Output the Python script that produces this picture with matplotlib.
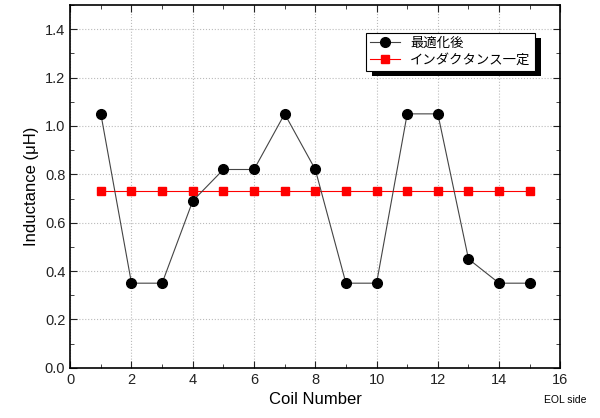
import matplotlib
matplotlib.use("Agg")
import matplotlib.pyplot as plt
from matplotlib.ticker import MultipleLocator
from matplotlib.patches import Rectangle

plt.rcParams['font.family'] = ['Liberation Sans', 'Noto Sans CJK JP', 'DejaVu Sans']

# data
coil = [1, 2, 3, 4, 5, 6, 7, 8, 9, 10, 11, 12, 13, 14, 15]
optimized = [1.05, 0.35, 0.35, 0.69, 0.82, 0.82, 1.05, 0.82, 0.35, 0.35, 1.05, 1.05, 0.45, 0.35, 0.35]
constant = [0.73] * 15
label_opt = "最適化後"
label_const = "インダクタンス一定"

fig = plt.figure(figsize=(6.0, 4.18), dpi=100)
ax = fig.add_axes([0.117, 0.12, 0.817, 0.868])

ax.plot(coil, optimized, color="#444444", linewidth=0.8, marker="o", markersize=7,
        markerfacecolor="black", markeredgecolor="black", label=label_opt, zorder=3)
ax.plot(coil, constant, color="red", linewidth=0.8, marker="s", markersize=6,
        markerfacecolor="red", markeredgecolor="red", label=label_const, zorder=2)

ax.set_xlim(0, 16)
ax.set_ylim(0, 1.5)
ax.xaxis.set_major_locator(MultipleLocator(2))
ax.xaxis.set_minor_locator(MultipleLocator(1))
ax.yaxis.set_major_locator(MultipleLocator(0.2))
ax.yaxis.set_minor_locator(MultipleLocator(0.1))
ax.yaxis.set_major_formatter(plt.FuncFormatter(lambda v, p: "%.1f" % v))
ax.tick_params(which="both", direction="in", top=True, right=True, labelsize=10.5, colors="#222222")
ax.tick_params(which="major", length=5)
ax.tick_params(which="minor", length=3)
ax.grid(True, which="major", linestyle=":", color="#bbbbbb", linewidth=0.8)
for s in ax.spines.values():
    s.set_linewidth(1.2)

ax.set_xlabel("Coil Number", fontsize=12)
ax.set_ylabel("Inductance (μH)", fontsize=12)
ax.text(1.01, -0.088, "EOL side", transform=ax.transAxes, fontsize=7.5, ha="center", va="center")

leg = ax.legend(loc="upper right", bbox_to_anchor=(0.949, 0.923), fontsize=9.6, frameon=True,
                fancybox=False, shadow=False, edgecolor="black", facecolor="white",
                framealpha=1.0, borderpad=0.35, handlelength=2.2, labelspacing=0.3,
                borderaxespad=0)
leg.get_frame().set_linewidth(0.8)
leg.set_zorder(6)

# solid black drop shadow behind the legend box
fig.canvas.draw()
bb = leg.get_frame().get_window_extent()
ax.add_patch(Rectangle((bb.x0 + 6, bb.y0 - 5), bb.width, bb.height, transform=None,
                       facecolor="black", edgecolor="none", zorder=5, clip_on=False))

fig.savefig("out.png", dpi=100)
